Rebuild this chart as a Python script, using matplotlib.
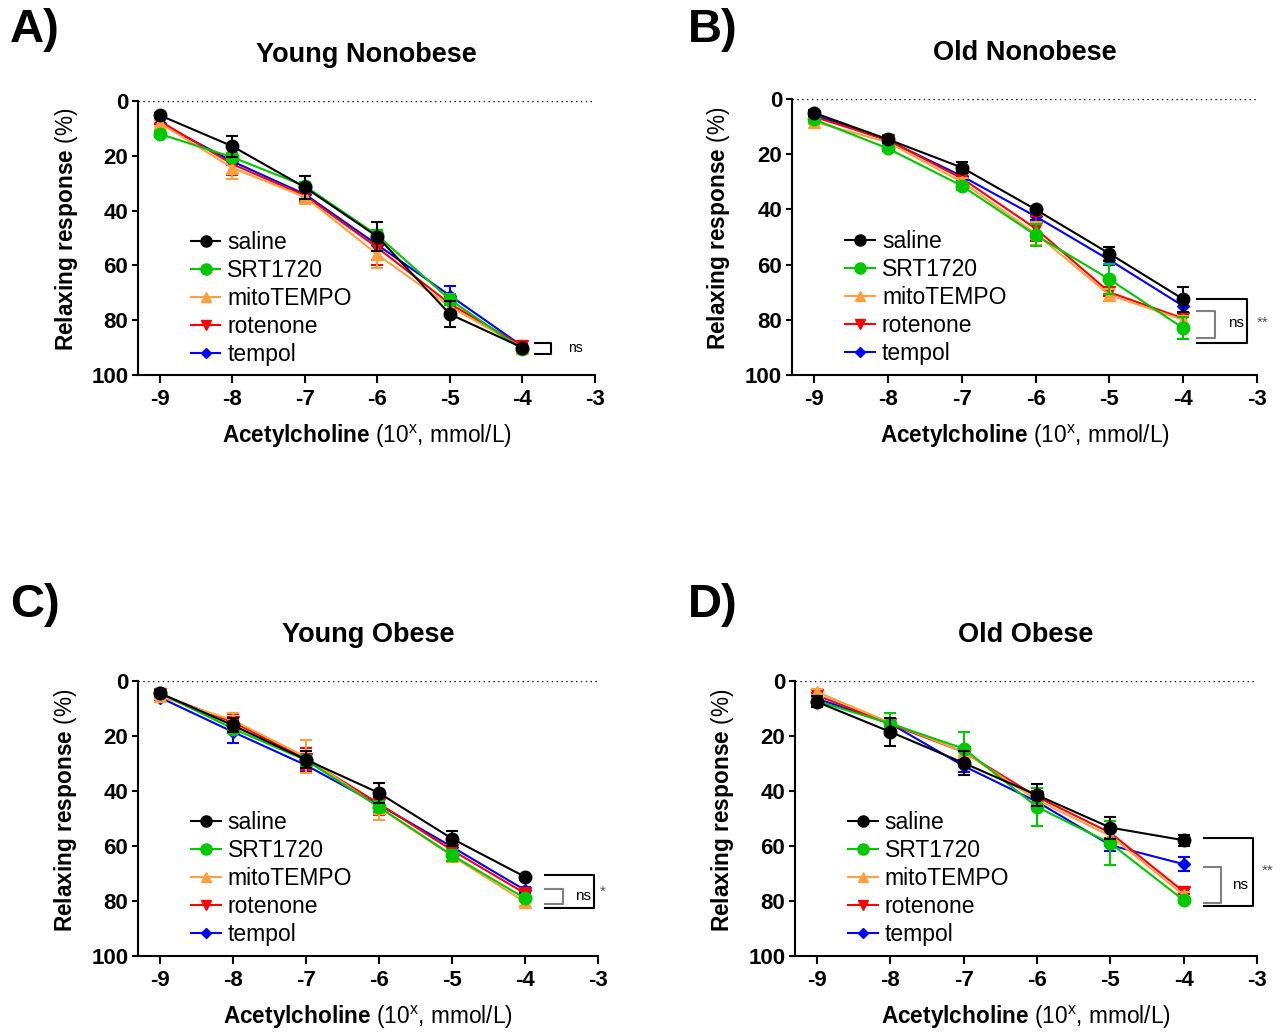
import matplotlib
matplotlib.use('Agg')
import matplotlib.pyplot as plt
from matplotlib.lines import Line2D

plt.rcParams['font.family'] = ['Liberation Sans', 'DejaVu Sans']
plt.rcParams['mathtext.fontset'] = 'custom'
plt.rcParams['mathtext.rm'] = 'Liberation Sans'
plt.rcParams['mathtext.bf'] = 'Liberation Sans:bold'
plt.rcParams['mathtext.it'] = 'Liberation Sans:italic'

# Log concentration of acetylcholine
doses = [-9, -8, -7, -6, -5, -4]
groups = ['saline', 'SRT1720', 'mitoTEMPO', 'rotenone', 'tempol']
colors = ['black', '#00c800', '#ffa040', '#ff0000', '#0000ff']
markers = ['o', 'o', '^', 'v', 'D']
msizes = [9, 9, 8, 8, 6]

# Relaxing response (%) mean / SEM per panel, per group
young_nonobese = {
    'saline':    [5.2, 16.5, 31.5, 49.5, 77.8, 90.0],
    'SRT1720':   [12.0, 20.5, 31.0, 49.0, 72.5, 90.6],
    'mitoTEMPO': [8.0, 24.4, 35.0, 56.0, 75.0, 90.0],
    'rotenone':  [7.3, 23.0, 34.5, 53.5, 74.0, 89.5],
    'tempol':    [8.0, 22.0, 34.0, 52.5, 71.0, 89.5],
}
young_nonobese_err = {
    'saline':    [1.0, 3.8, 4.3, 5.4, 4.8, 1.0],
    'SRT1720':   [1.0, 1.5, 1.5, 2.0, 2.0, 1.0],
    'mitoTEMPO': [1.0, 4.0, 2.5, 5.0, 2.0, 1.0],
    'rotenone':  [1.0, 4.0, 2.0, 6.5, 2.0, 1.0],
    'tempol':    [1.0, 1.5, 3.0, 5.5, 3.5, 1.0],
}
old_nonobese = {
    'saline':    [5.0, 14.6, 24.8, 40.0, 56.0, 72.5],
    'SRT1720':   [7.4, 17.9, 31.4, 49.3, 65.3, 83.0],
    'mitoTEMPO': [8.2, 15.7, 30.0, 48.7, 71.0, 80.0],
    'rotenone':  [6.4, 14.9, 28.7, 46.9, 70.0, 79.5],
    'tempol':    [5.8, 15.0, 27.9, 42.5, 58.3, 75.0],
}
old_nonobese_err = {
    'saline':    [1.0, 1.2, 2.0, 1.0, 2.5, 4.5],
    'SRT1720':   [1.0, 1.0, 1.5, 4.0, 5.5, 4.0],
    'mitoTEMPO': [1.0, 1.0, 1.5, 4.0, 2.0, 1.5],
    'rotenone':  [1.0, 1.0, 1.5, 4.5, 1.5, 2.0],
    'tempol':    [1.0, 1.0, 1.5, 1.5, 2.0, 2.0],
}
young_obese = {
    'saline':    [4.4, 16.1, 28.6, 40.7, 57.3, 71.2],
    'SRT1720':   [4.4, 17.3, 28.8, 45.8, 63.3, 79.0],
    'mitoTEMPO': [5.6, 14.3, 27.6, 46.0, 63.6, 80.3],
    'rotenone':  [4.8, 15.0, 28.2, 44.6, 61.5, 77.2],
    'tempol':    [6.0, 18.5, 30.6, 45.0, 60.3, 76.0],
}
young_obese_err = {
    'saline':    [1.0, 2.5, 3.0, 3.5, 2.7, 1.0],
    'SRT1720':   [1.0, 1.5, 2.0, 2.0, 2.0, 1.0],
    'mitoTEMPO': [1.0, 2.5, 6.0, 4.5, 2.0, 1.5],
    'rotenone':  [1.0, 3.0, 4.0, 4.0, 1.5, 1.0],
    'tempol':    [1.0, 4.0, 2.0, 3.0, 1.5, 1.0],
}
old_obese = {
    'saline':    [7.6, 18.5, 29.8, 41.5, 53.3, 57.9],
    'SRT1720':   [7.3, 15.5, 24.6, 45.8, 59.0, 79.7],
    'mitoTEMPO': [4.0, 15.2, 25.8, 43.3, 56.3, 77.8],
    'rotenone':  [5.2, 15.7, 25.8, 42.1, 55.2, 76.6],
    'tempol':    [6.4, 15.5, 30.9, 43.9, 59.7, 66.6],
}
old_obese_err = {
    'saline':    [2.0, 5.0, 4.5, 4.0, 4.0, 2.0],
    'SRT1720':   [1.5, 4.0, 6.0, 7.0, 8.0, 1.0],
    'mitoTEMPO': [1.0, 1.5, 1.5, 2.0, 2.0, 1.0],
    'rotenone':  [1.0, 1.5, 1.5, 2.0, 2.0, 1.0],
    'tempol':    [1.0, 1.5, 2.0, 2.0, 2.0, 2.5],
}

panels = [
    ('A)', 'Young Nonobese', young_nonobese, young_nonobese_err, [0.1075, 0.6366, 0.3559, 0.2655], (10, 30)),
    ('B)', 'Old Nonobese', old_nonobese, old_nonobese_err, [0.6168, 0.6366, 0.3622, 0.2674], (688, 30)),
    ('C)', 'Young Obese', young_obese, young_obese_err, [0.1075, 0.0736, 0.3582, 0.2665], (10, 605)),
    ('D)', 'Old Obese', old_obese, old_obese_err, [0.6192, 0.0736, 0.3598, 0.2665], (688, 605)),
]

# significance brackets: (x0, x1, y0, y1, colour) in data units, then labels
brackets = {
    'A)': [(-3.83, -3.61, 88.3, 92.3, 'black')],
    'B)': [(-3.82, -3.13, 72.5, 88.4, 'black'), (-3.82, -3.57, 76.8, 86.6, 'gray')],
    'C)': [(-3.73, -3.06, 70.5, 82.5, 'black'), (-3.73, -3.48, 75.6, 81.1, 'gray')],
    'D)': [(-3.73, -3.05, 57.1, 81.8, 'black'), (-3.73, -3.49, 67.6, 80.7, 'gray')],
}
sig_labels = {
    'A)': [(-3.37, 90.0, 'ns')],
    'B)': [(-3.39, 81.0, 'ns'), (-2.93, 81.0, '**')],
    'C)': [(-3.32, 78.0, 'ns'), (-2.93, 76.5, '*')],
    'D)': [(-3.34, 74.0, 'ns'), (-2.86, 69.0, '**')],
}

W, H = 1284, 1032
fig = plt.figure(figsize=(W / 100, H / 100), dpi=100)

for letter, title, data, err, rect, lpos in panels:
    ax = fig.add_axes(rect)
    for i in list(range(len(groups)))[::-1]:
        g = groups[i]
        ax.errorbar(doses, data[g], yerr=err[g], color=colors[i], marker=markers[i],
                    markersize=msizes[i], linewidth=1.5, elinewidth=1.5, capsize=4.5,
                    capthick=1.5, zorder=10 - i, clip_on=False)
    ax.axhline(0, color='black', linestyle=(0, (1, 2.5)), linewidth=1.0)
    ax.set_xlim(-9.3, -3)
    ax.set_ylim(100, 0)
    ax.set_xticks(range(-9, -2))
    ax.set_xticklabels([str(t) for t in range(-9, -2)])
    ax.set_yticks([0, 20, 40, 60, 80, 100])
    for s in ['top', 'right']:
        ax.spines[s].set_visible(False)
    for s in ['left', 'bottom']:
        ax.spines[s].set_linewidth(1.5)
    ax.tick_params(axis='x', length=6, width=1.5, labelsize=16, pad=4)
    ax.tick_params(axis='y', length=4, width=1.5, labelsize=16, pad=3)
    for lab in ax.get_xticklabels() + ax.get_yticklabels():
        lab.set_fontweight('bold')
    ax.set_xlabel(r'$\mathbf{Acetylcholine}$ (10$^{\mathrm{x}}$, mmol/L)', fontsize=16.3, labelpad=9)
    ax.set_ylabel(r'$\mathbf{Relaxing\ response}$ (%)', fontsize=16.3)
    ax.yaxis.set_label_coords(-0.128, 0.53)
    ax.set_title(title, fontsize=19.5, fontweight='bold', pad=28)

    handles = [Line2D([0], [0], color=colors[i], marker=markers[i], markersize=msizes[i] - 1,
                      linewidth=1.5) for i in range(len(groups))]
    ax.legend(handles, groups, loc='upper left', bbox_to_anchor=(0.095, 0.56), frameon=False,
              fontsize=16.5, handlelength=1.3, handletextpad=0.3, labelspacing=0.22,
              borderaxespad=0)

    for x0, x1, y0, y1, c in brackets[letter]:
        ax.plot([x0, x1, x1, x0], [y0, y0, y1, y1], color=c, linewidth=1.5, clip_on=False)
    for x, y, t in sig_labels[letter]:
        ax.text(x, y, t, fontsize=10 if letter == 'A)' else 11,
                color='black' if t == 'ns' else '#555555',
                ha='left' if t == 'ns' else 'center', va='center', clip_on=False)

    fig.text(lpos[0] / W, 1 - lpos[1] / H, letter, fontsize=34,
             fontweight='bold', ha='left', va='center')

fig.savefig('out.png', dpi=100)
